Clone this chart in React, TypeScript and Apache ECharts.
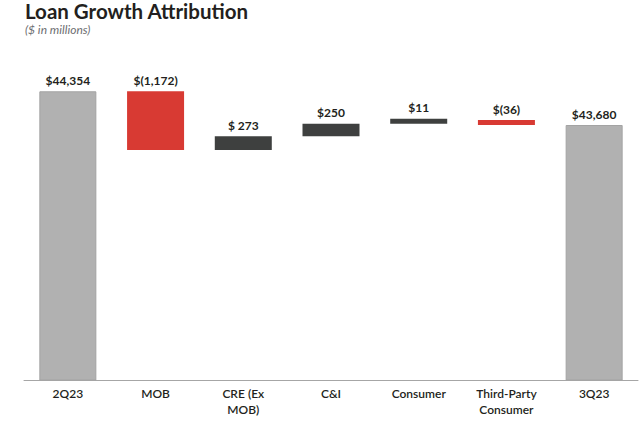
import React, { useEffect, useRef } from "react";
import * as echarts from "echarts";

const categories = ["2Q23", "MOB", "CRE (Ex\nMOB)", "C&I", "Consumer", "Third-Party\nConsumer", "3Q23"];
const startValue = 44354;
const changes = [-1172, 273, 250, 11, -36];
const endValue = 43680;
const valueLabels = ["$44,354", "$(1,172)", "$ 273", "$250", "$11", "$(36)", "$43,680"];

const GRAY = "#b1b1b1";
const RED = "#d83a33";
const DARK = "#3e403f";

export default function App() {
  const ref = useRef<HTMLDivElement>(null);
  useEffect(() => {
    if (!ref.current) return;
    const chart = echarts.init(ref.current, undefined, { renderer: "svg" });

    const base: number[] = [0];
    const visible: any[] = [
      { value: startValue, itemStyle: { color: GRAY, borderColor: "#a3a3a3", borderWidth: 1 } },
    ];
    let running = startValue;
    changes.forEach((c) => {
      const next = running + c;
      base.push(Math.min(running, next));
      visible.push({ value: Math.abs(c), itemStyle: { color: c < 0 ? RED : DARK } });
      running = next;
    });
    base.push(0);
    visible.push({ value: endValue, itemStyle: { color: GRAY, borderColor: "#a3a3a3", borderWidth: 1 } });

    const font = "Lato, 'Noto Sans', sans-serif";

    chart.setOption({
      animation: false,
      backgroundColor: "#ffffff",
      title: [
        {
          text: "Loan Growth Attribution",
          left: 25,
          top: 0,
          padding: 0,
          textStyle: { fontFamily: font, fontSize: 20.5, lineHeight: 22, fontWeight: "bold", color: "#231f20" },
        },
        {
          text: "($ in millions)",
          left: 25,
          top: 23,
          padding: 0,
          textStyle: { fontFamily: font, fontSize: 12, lineHeight: 12, fontStyle: "italic", fontWeight: "normal", color: "#6d6e71" },
        },
      ],
      grid: { left: 24, right: 2, top: 60, bottom: 56 },
      xAxis: {
        type: "category",
        data: categories,
        axisLine: { show: true, lineStyle: { color: "#a6a6a6", width: 1 } },
        axisTick: { show: false },
        axisLabel: {
          interval: 0,
          margin: 5,
          fontFamily: font,
          fontSize: 12,
          fontWeight: 600,
          color: "#231f20",
          lineHeight: 16,
        },
      },
      yAxis: {
        type: "value",
        min: 38580,
        max: 44980,
        show: false,
        splitLine: { show: false },
      },
      series: [
        {
          type: "bar",
          stack: "wf",
          data: base,
          itemStyle: { color: "transparent" },
          barWidth: 57,
          silent: true,
        },
        {
          type: "bar",
          stack: "wf",
          data: visible,
          barWidth: 57,
          barMinHeight: 5,
          label: {
            show: true,
            position: "top",
            distance: 5,
            formatter: (p: any) => valueLabels[p.dataIndex],
            fontFamily: font,
            fontSize: 12,
            fontWeight: "bold",
            color: "#231f20",
          },
        },
      ],
    });
    return () => chart.dispose();
  }, []);
  return <div ref={ref} style={{ position: "fixed", left: 0, top: 0, width: 640, height: 436 }} />;
}
